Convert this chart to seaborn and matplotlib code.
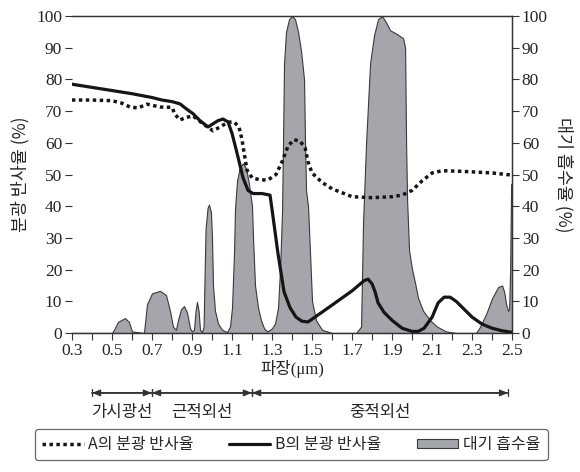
import numpy as np
import matplotlib
matplotlib.use('Agg')
import matplotlib.pyplot as plt
from matplotlib.lines import Line2D
from matplotlib.patches import Patch
import seaborn as sns

# Spectral reflectance of A (dotted)
wave_a = [0.30, 0.40, 0.50, 0.55, 0.59, 0.63, 0.675, 0.74, 0.80, 0.815, 0.84, 0.87, 0.905,
          0.955, 1.005, 1.04, 1.08, 1.11, 1.135, 1.15, 1.16, 1.175, 1.20, 1.24, 1.28, 1.32,
          1.35, 1.38, 1.41, 1.44, 1.465, 1.48, 1.50, 1.55, 1.60, 1.70, 1.80, 1.90, 1.95,
          2.00, 2.05, 2.10, 2.15, 2.25, 2.40, 2.50]
refl_a = [73.5, 73.5, 73.3, 72.5, 71.3, 71.0, 72.2, 71.3, 71.2, 69.0, 67.2, 68.0, 68.5,
          66.0, 63.8, 65.0, 66.5, 66.6, 65.0, 61.0, 57.0, 51.4, 49.0, 48.3, 48.3, 50.0,
          54.0, 59.0, 61.0, 60.5, 58.5, 54.0, 50.5, 47.5, 45.5, 43.0, 42.7, 43.0, 43.5,
          45.0, 48.0, 50.5, 51.2, 51.0, 50.5, 49.8]

# Spectral reflectance of B (solid)
wave_b = [0.30, 0.40, 0.50, 0.60, 0.70, 0.75, 0.80, 0.84, 0.87, 0.905, 0.94, 0.98, 1.005,
          1.03, 1.055, 1.08, 1.10, 1.125, 1.155, 1.18, 1.205, 1.25, 1.29, 1.30, 1.315,
          1.33, 1.345, 1.36, 1.39, 1.42, 1.45, 1.48, 1.51, 1.60, 1.70, 1.76, 1.78, 1.80,
          1.815, 1.83, 1.86, 1.90, 1.95, 2.00, 2.03, 2.06, 2.10, 2.13, 2.16, 2.19, 2.22,
          2.26, 2.30, 2.35, 2.40, 2.45, 2.50]
refl_b = [78.5, 77.5, 76.5, 75.5, 74.3, 73.5, 73.0, 72.3, 70.8, 69.2, 67.0, 65.0, 66.0,
          67.0, 67.5, 66.6, 63.0, 56.8, 49.0, 45.0, 44.0, 44.0, 43.5, 39.0, 32.0,
          25.0, 19.0, 13.0, 8.0, 5.0, 3.7, 3.5, 4.8, 8.8, 13.3, 16.5, 17.0, 15.5,
          13.0, 9.5, 6.5, 4.0, 1.5, 0.5, 0.5, 1.5, 5.0, 9.5, 11.3, 11.3, 10.0,
          7.5, 5.0, 2.8, 1.5, 0.7, 0.2]

# Atmospheric absorption (grey area, right axis)
wave_abs = [0.30, 0.50, 0.51, 0.53, 0.565, 0.585, 0.60, 0.66, 0.665, 0.675, 0.70, 0.74,
            0.77, 0.79, 0.805, 0.82, 0.83, 0.845, 0.86, 0.875, 0.89, 0.90, 0.91, 0.918,
            0.925, 0.933, 0.94, 0.95, 0.958, 0.962, 0.968, 0.978, 0.985, 0.995, 1.00,
            1.005, 1.015, 1.03, 1.05, 1.075, 1.09, 1.10, 1.11, 1.115, 1.125, 1.14, 1.155,
            1.17, 1.185, 1.20, 1.205, 1.215, 1.23, 1.245, 1.26, 1.275, 1.29, 1.30, 1.315,
            1.33, 1.34, 1.35, 1.355, 1.36, 1.37, 1.385, 1.40, 1.415, 1.43, 1.445, 1.46,
            1.465, 1.47, 1.48, 1.49, 1.50, 1.52, 1.55, 1.60, 1.72, 1.745, 1.755, 1.77,
            1.79, 1.81, 1.83, 1.85, 1.87, 1.89, 1.92, 1.955, 1.965, 1.97, 1.975, 1.985,
            2.00, 2.015, 2.03, 2.055, 2.09, 2.125, 2.17, 2.22, 2.32, 2.34, 2.37, 2.40,
            2.43, 2.45, 2.46, 2.47, 2.48, 2.485, 2.49, 2.495, 2.50]
absorb = [0, 0, 1.0, 3.5, 4.7, 3.5, 0.5, 0, 3.0, 9.0, 12.5, 13.3,
          12.0, 7.0, 2.0, 1.0, 4.0, 7.5, 8.5, 6.5, 1.5, 0.5, 1.0, 7.0,
          9.8, 7.0, 1.0, 0.3, 2.0, 15.0, 33.0, 39.5, 40.5, 38.0, 30.0,
          15.0, 7.0, 3.0, 1.0, 0.3, 2.0, 8.0, 25.0, 39.0, 48.0, 52.5, 53.5,
          52.0, 47.0, 40.0, 30.0, 15.0, 8.0, 4.0, 1.5, 0.5, 1.0, 1.5, 3.0,
          8.0, 20.0, 38.0, 60.0, 85.0, 95.0, 99.0, 100.0, 99.0, 95.0, 89.0, 80.0,
          60.0, 45.0, 40.0, 25.0, 10.0, 4.0, 1.0, 0, 0, 2.0, 35.0, 60.0,
          85.0, 94.0, 99.0, 100.0, 98.0, 95.5, 94.5, 93.0, 90.0, 60.0, 42.0, 26.0,
          20.0, 15.7, 11.0, 7.0, 4.0, 2.0, 0.5, 0, 0, 2.0, 6.0, 11.0,
          14.5, 15.0, 13.0, 9.0, 7.0, 7.5, 20.0, 47.0, 47.0]

band_names = ['가시광선', '근적외선', '중적외선']
band_edges = [(0.4, 0.7), (0.7, 1.2), (1.2, 2.48)]
x_major = [0.3, 0.5, 0.7, 0.9, 1.1, 1.3, 1.5, 1.7, 1.9, 2.1, 2.3, 2.5]
y_ticks = [0, 10, 20, 30, 40, 50, 60, 70, 80, 90, 100]

sns.set_style('ticks')
plt.rcParams['font.family'] = ['Liberation Serif', 'Noto Sans CJK KR']
plt.rcParams['axes.unicode_minus'] = False
kr = ['Noto Sans CJK KR', 'DejaVu Sans']
mixed = ['Liberation Serif', 'Noto Sans CJK KR']

fig = plt.figure(figsize=(5.8, 4.72), dpi=100)
ax = fig.add_axes([0.124, 0.2945, 0.759, 0.6715])
ax2 = ax.twinx()

# grey absorption area on the right axis, behind the lines
ax2.fill_between(wave_abs, absorb, 0, facecolor='#a4a6ab', edgecolor='#3a3a3a', linewidth=0.8)
ax.set_zorder(ax2.get_zorder() + 1)
ax.patch.set_visible(False)

sns.lineplot(x=wave_a, y=refl_a, ax=ax, color='#151515', linewidth=2.5,
             linestyle=(0, (1, 1)), estimator=None)
sns.lineplot(x=wave_b, y=refl_b, ax=ax, color='#151515', linewidth=2.3, estimator=None)

for a in (ax, ax2):
    a.set_xlim(0.3, 2.5)
    a.set_ylim(0, 100)
    a.set_yticks(y_ticks)
    a.tick_params(axis='both', labelsize=12.5, length=5, width=0.8, color='#333333', pad=2)
    a.spines['left'].set_visible(False)
    for s in ('top', 'right', 'bottom'):
        a.spines[s].set_visible(True)
        a.spines[s].set_color('#333333')
        a.spines[s].set_linewidth(0.9)

ax.set_xticks(x_major)
ax.set_xticklabels([f'{v:.1f}' for v in x_major])
ax.set_xticks(np.arange(0.4, 2.45, 0.2), minor=True)
ax.tick_params(axis='x', which='minor', length=5, width=0.8, color='#333333')
ax.tick_params(axis='y', which='both', right=False)
ax2.tick_params(axis='y', left=False)

ax.set_xlabel('파장(μm)', family=mixed, fontsize=12, labelpad=1)
ax.set_ylabel('분광 반사율 (%)', family=kr, fontsize=12.5, labelpad=5)
ax2.set_ylabel('대기 흡수율 (%)', family=kr, fontsize=12.5, rotation=270, labelpad=18)

# wavelength band arrows under the x axis
trans = ax.get_xaxis_transform()
for name, (x0, x1) in zip(band_names, band_edges):
    ax.annotate('', xy=(x1, -0.189), xytext=(x0, -0.189), xycoords=trans, textcoords=trans,
                arrowprops=dict(arrowstyle='-|>,head_length=0.5,head_width=0.2', color='#333333',
                                lw=0.9, shrinkA=0, shrinkB=0))
    ax.annotate('', xy=(x0, -0.189), xytext=(x1, -0.189), xycoords=trans, textcoords=trans,
                arrowprops=dict(arrowstyle='-|>,head_length=0.5,head_width=0.2', color='#333333',
                                lw=0.9, shrinkA=0, shrinkB=0))
    ax.annotate('', xy=(x0, -0.189), xytext=(x1, -0.189), xycoords=trans, textcoords=trans,
                arrowprops=dict(arrowstyle='|-|,widthA=0.25,widthB=0.25', color='#333333',
                                lw=0.9, shrinkA=0, shrinkB=0))
    ax.text((x0 + x1) / 2, -0.25, name, transform=trans, ha='center', va='center',
            family=kr, fontsize=12)

handles = [Line2D([], [], color='#151515', linewidth=2.5, linestyle=(0, (1, 1))),
           Line2D([], [], color='#151515', linewidth=2.3),
           Patch(facecolor='#a4a6ab', edgecolor='#3a3a3a', linewidth=0.8)]
labels = ['A의 분광 반사율', 'B의 분광 반사율', '대기 흡수율']
leg = fig.legend(handles, labels, loc='center', bbox_to_anchor=(0.502, 0.058), ncol=3,
                 prop={'family': kr, 'size': 11.5}, frameon=True, fancybox=True,
                 edgecolor='#444444', handlelength=2.6, handleheight=0.5,
                 handletextpad=0.3, columnspacing=2.2, borderpad=0.45)
leg.get_frame().set_linewidth(0.9)

fig.savefig('out.png', dpi=100)
